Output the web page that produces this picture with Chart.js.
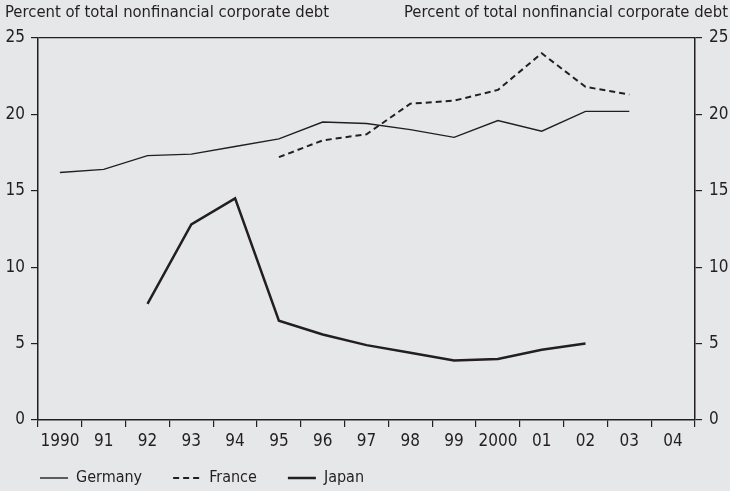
<!DOCTYPE html>
<html>
<head>
<meta charset="utf-8">
<script src="https://cdn.jsdelivr.net/npm/chart.js@4.4.1/dist/chart.umd.min.js"></script>
<style>
    html, body { margin: 0; padding: 0; background: #e6e7e9; }
    #wrap { width: 730px; height: 491px; }
</style>
</head>
<body>
<div id="wrap"><canvas id="debtChart"></canvas></div>
<script>
let years = ['1990', '91', '92', '93', '94', '95', '96', '97', '98', '99', '2000', '01', '02', '03', '04'];
let germany = [16.2, 16.4, 17.3, 17.4, 17.9, 18.4, 19.5, 19.4, 19.0, 18.5, 19.6, 18.9, 20.2, 20.2, null];
let france = [null, null, null, null, null, 17.2, 18.3, 18.7, 20.7, 20.9, 21.6, 24.0, 21.8, 21.3, null];
let japan = [null, null, 7.6, 12.8, 14.5, 6.5, 5.6, 4.9, 4.4, 3.9, 4.0, 4.6, 5.0, null, null];
let yTicks = [0, 5, 10, 15, 20, 25];
let unitLabel = 'Percent of total nonfinancial corporate debt';

let ink = '#231f20';
let fontName = "'DejaVu Sans Condensed', 'Liberation Sans Narrow', sans-serif";

Chart.defaults.font.family = fontName;
Chart.defaults.color = ink;

// unit labels above both y axes, legend pinned under the x axis
let unitLabels = {
    id: 'unitLabels',
    beforeInit: function (chart) {
        let fit = chart.legend.fit;
        chart.legend.fit = function () {
            fit.call(this);
            this.height = 39;
        };
    },
    afterLayout: function (chart) {
        chart.legend.left = 9;
        chart.legend.top = 439;
    },
    afterDraw: function (chart) {
        let ctx = chart.ctx;
        ctx.save();
        ctx.font = '16.5px ' + fontName;
        ctx.fillStyle = ink;
        ctx.textBaseline = 'middle';
        ctx.textAlign = 'left';
        ctx.fillText(unitLabel, 5, 13);
        ctx.textAlign = 'right';
        ctx.fillText(unitLabel, chart.width - 2, 13);
        ctx.restore();
    }
};

function yAxis(side) {
    return {
        type: 'linear',
        position: side,
        min: 0,
        max: 25,
        afterBuildTicks: function (axis) {
            axis.ticks = yTicks.map(function (v) { return { value: v }; });
        },
        afterFit: function (axis) {
            axis.width = side === 'left' ? 38 : 35;
        },
        ticks: { font: { size: 17 }, padding: side === 'left' ? 6 : 7, color: ink },
        grid: {
            drawOnChartArea: side === 'left',
            color: function (c) { return c.tick && c.tick.value === 25 ? ink : 'rgba(0,0,0,0)'; },
            tickColor: ink,
            tickLength: 7,
            lineWidth: 1.2
        },
        border: { display: true, color: ink, width: 1.5 }
    };
}

let debtCanvas = document.getElementById('debtChart');
let debtChart = new Chart(debtCanvas, {
    type: 'line',
    data: {
        labels: years,
        datasets: [{
            label: 'Germany',
            data: germany,
            borderColor: ink,
            backgroundColor: ink,
            borderWidth: 1.4,
            yAxisID: 'y'
        }, {
            label: 'France',
            data: france,
            borderColor: ink,
            backgroundColor: ink,
            borderWidth: 2,
            borderDash: [6, 4],
            yAxisID: 'y'
        }, {
            label: 'Japan',
            data: japan,
            borderColor: ink,
            backgroundColor: ink,
            borderWidth: 2.5,
            yAxisID: 'y'
        }]
    },
    options: {
        responsive: true,
        maintainAspectRatio: false,
        animation: false,
        spanGaps: false,
        elements: {
            point: { radius: 0, hoverRadius: 0 },
            line: { tension: 0, borderJoinStyle: 'miter' }
        },
        layout: { padding: { top: 38, left: 0, right: 0, bottom: 0 } },
        scales: {
            x: {
                offset: true,
                afterFit: function (axis) {
                    axis.height = 32;
                },
                ticks: { font: { size: 17 }, padding: 4, color: ink, maxRotation: 0, autoSkip: false },
                grid: {
                    offset: true,
                    drawOnChartArea: false,
                    color: ink,
                    tickColor: ink,
                    tickLength: 7,
                    lineWidth: 1.2
                },
                border: { display: true, color: ink, width: 1.5 }
            },
            y: yAxis('left'),
            y2: yAxis('right')
        },
        plugins: {
            legend: {
                position: 'bottom',
                align: 'start',
                labels: {
                    usePointStyle: true,
                    pointStyle: 'line',
                    pointStyleWidth: 28,
                    color: ink,
                    font: { size: 16 },
                    padding: 31,
                    generateLabels: function (chart) {
                        let items = Chart.defaults.plugins.legend.labels.generateLabels(chart);
                        items.forEach(function (item) {
                            let ds = chart.data.datasets[item.datasetIndex];
                            item.lineDash = ds.borderDash || [];
                            item.lineWidth = ds.borderWidth;
                            item.strokeStyle = ink;
                        });
                        return items;
                    }
                }
            },
            tooltip: { enabled: false }
        }
    },
    plugins: [unitLabels]
});
</script>
</body>
</html>
